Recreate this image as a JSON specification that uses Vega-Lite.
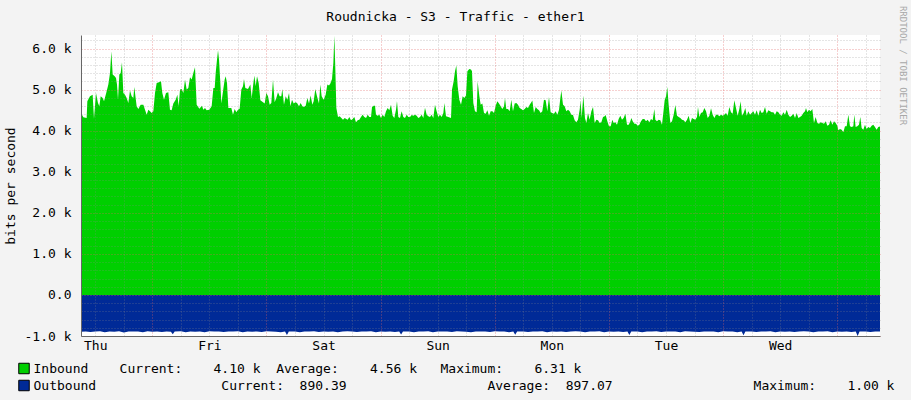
{
"$schema": "https://vega.github.io/schema/vega-lite/v6.json",
"width": 799, "height": 301,
"autosize": {"type": "none"},
"padding": {"left": 81, "top": 35, "right": 31, "bottom": 64},
"background": "#F3F3F3",
"config": {"view": {"fill": "#FFFFFF", "stroke": null}, "font": "DejaVu Sans Mono"},
"title": {"text": "Roudnicka - S3 - Traffic - ether1", "font": "DejaVu Sans Mono", "fontSize": 13, "fontWeight": "normal", "color": "#000000", "anchor": "middle", "frame": "group", "dx": -25, "dy": 29, "offset": 0, "baseline": "alphabetic"},
"datasets": {
"inb": [
{"h":0,"bps":4431},{"h":0.49,"bps":4325},{"h":1.19,"bps":4309},{"h":1.33,"bps":4715},{"h":1.89,"bps":4837},{"h":2.45,"bps":4878},{"h":2.73,"bps":4293},{"h":3.15,"bps":4919},{"h":3.57,"bps":4675},{"h":3.86,"bps":4593},{"h":4.14,"bps":4837},{"h":4.56,"bps":4797},{"h":4.84,"bps":4715},{"h":5.26,"bps":4902},{"h":5.75,"bps":5122},{"h":6.1,"bps":5407},{"h":6.38,"bps":5935},{"h":6.66,"bps":5366},{"h":7.08,"bps":5325},{"h":7.36,"bps":5285},{"h":7.57,"bps":5122},{"h":7.78,"bps":4756},{"h":8.06,"bps":5366},{"h":8.34,"bps":5407},{"h":8.62,"bps":5667},{"h":8.9,"bps":4919},{"h":9.25,"bps":4878},{"h":9.6,"bps":4797},{"h":9.95,"bps":4675},{"h":10.3,"bps":4976},{"h":10.65,"bps":4837},{"h":11,"bps":4797},{"h":11.21,"bps":5065},{"h":11.49,"bps":4797},{"h":11.7,"bps":4593},{"h":12.06,"bps":4528},{"h":12.55,"bps":4634},{"h":13.11,"bps":4634},{"h":13.46,"bps":4512},{"h":13.81,"bps":4390},{"h":14.16,"bps":4512},{"h":14.51,"bps":4472},{"h":14.86,"bps":4431},{"h":15.21,"bps":4472},{"h":15.56,"bps":4919},{"h":15.91,"bps":5163},{"h":16.4,"bps":5179},{"h":16.82,"bps":5203},{"h":17.1,"bps":4919},{"h":17.45,"bps":4756},{"h":17.87,"bps":4919},{"h":18.36,"bps":4935},{"h":18.71,"bps":4512},{"h":19.06,"bps":4496},{"h":19.41,"bps":4659},{"h":19.91,"bps":4756},{"h":20.26,"bps":4878},{"h":20.54,"bps":4593},{"h":20.82,"bps":5000},{"h":21.17,"bps":5016},{"h":21.52,"bps":4919},{"h":21.87,"bps":5244},{"h":22.22,"bps":5000},{"h":22.57,"bps":5041},{"h":22.92,"bps":5301},{"h":23.27,"bps":5244},{"h":23.62,"bps":5407},{"h":23.97,"bps":5545},{"h":24.32,"bps":4634},{"h":24.88,"bps":4537},{"h":25.44,"bps":4610},{"h":25.72,"bps":4512},{"h":26.07,"bps":4553},{"h":26.42,"bps":4496},{"h":26.98,"bps":4512},{"h":27.47,"bps":4593},{"h":27.83,"bps":5041},
{"h":28.11,"bps":5041},{"h":28.32,"bps":5407},{"h":28.6,"bps":5732},{"h":28.81,"bps":5959},{"h":29.02,"bps":5732},{"h":29.3,"bps":5163},{"h":29.51,"bps":4659},{"h":29.86,"bps":4959},{"h":30.21,"bps":5244},{"h":30.42,"bps":5325},{"h":30.7,"bps":5163},{"h":30.98,"bps":4553},{"h":31.61,"bps":4553},{"h":31.96,"bps":4390},{"h":32.31,"bps":4528},{"h":32.66,"bps":4447},{"h":33.01,"bps":4512},{"h":33.36,"bps":4537},{"h":33.71,"bps":5000},{"h":34.06,"bps":5081},{"h":34.27,"bps":5260},{"h":34.55,"bps":5041},{"h":35.11,"bps":5016},{"h":35.61,"bps":5122},{"h":35.89,"bps":4797},{"h":36.17,"bps":5081},{"h":36.45,"bps":5341},{"h":36.73,"bps":5081},{"h":37.01,"bps":5325},{"h":37.36,"bps":5163},{"h":37.71,"bps":4740},{"h":38.27,"bps":4691},{"h":38.62,"bps":4659},{"h":38.97,"bps":4919},{"h":39.32,"bps":4837},{"h":39.67,"bps":4634},{"h":40.02,"bps":4675},{"h":40.37,"bps":5244},{"h":40.72,"bps":4691},{"h":41.07,"bps":4797},{"h":41.42,"bps":4935},{"h":41.77,"bps":4837},{"h":42.12,"bps":4837},{"h":42.33,"bps":5016},{"h":42.68,"bps":4634},{"h":43.04,"bps":4837},{"h":43.39,"bps":4756},{"h":43.74,"bps":4919},{"h":44.02,"bps":4593},{"h":44.37,"bps":4756},{"h":44.72,"bps":4659},{"h":45.07,"bps":4691},{"h":45.42,"bps":4675},{"h":45.84,"bps":4593},{"h":46.19,"bps":4675},{"h":46.54,"bps":4593},{"h":46.89,"bps":4577},{"h":47.24,"bps":4610},{"h":47.59,"bps":4797},{"h":47.94,"bps":4659},{"h":48.29,"bps":4854},{"h":48.64,"bps":4634},{"h":48.92,"bps":4715},{"h":49.27,"bps":5016},{"h":49.62,"bps":4837},{"h":50.04,"bps":4659},{"h":50.32,"bps":5122},{"h":50.6,"bps":4837},{"h":51.02,"bps":4756},{"h":51.44,"bps":4878},{"h":51.8,"bps":5122},{"h":52.15,"bps":5098},{"h":52.43,"bps":5146},{"h":52.78,"bps":5260},{"h":53.06,"bps":5650},{"h":53.27,"bps":6310},{"h":53.48,"bps":5488},{"h":53.69,"bps":4553},{"h":54.04,"bps":4333},{"h":54.39,"bps":4350},{"h":54.74,"bps":4309},{"h":55.09,"bps":4268},{"h":55.44,"bps":4309},{"h":55.79,"bps":4285},
{"h":56.07,"bps":4268},{"h":56.42,"bps":4333},{"h":56.77,"bps":4252},{"h":57.12,"bps":4285},{"h":57.47,"bps":4333},{"h":57.82,"bps":4203},{"h":58.17,"bps":4252},{"h":58.52,"bps":4268},{"h":58.87,"bps":4333},{"h":59.22,"bps":4390},{"h":59.57,"bps":4333},{"h":59.93,"bps":4309},{"h":60.28,"bps":4390},{"h":60.63,"bps":4333},{"h":60.98,"bps":4333},{"h":61.19,"bps":4577},{"h":61.54,"bps":4610},{"h":61.82,"bps":4610},{"h":62.03,"bps":4390},{"h":62.38,"bps":4366},{"h":62.73,"bps":4390},{"h":63.08,"bps":4309},{"h":63.43,"bps":4390},{"h":63.78,"bps":4333},{"h":64.13,"bps":4472},{"h":64.48,"bps":4553},{"h":64.83,"bps":4496},{"h":65.18,"bps":4634},{"h":65.53,"bps":4366},{"h":65.88,"bps":4309},{"h":66.23,"bps":4512},{"h":66.44,"bps":4724},{"h":66.72,"bps":4333},{"h":67.07,"bps":4309},{"h":67.42,"bps":4472},{"h":67.77,"bps":4333},{"h":68.12,"bps":4309},{"h":68.48,"bps":4390},{"h":68.83,"bps":4333},{"h":69.18,"bps":4333},{"h":69.53,"bps":4382},{"h":69.88,"bps":4366},{"h":70.23,"bps":4390},{"h":70.58,"bps":4366},{"h":70.93,"bps":4309},{"h":71.28,"bps":4333},{"h":71.63,"bps":4390},{"h":71.98,"bps":4309},{"h":72.33,"bps":4561},{"h":72.68,"bps":4390},{"h":73.03,"bps":4350},{"h":73.38,"bps":4333},{"h":73.73,"bps":4390},{"h":74.08,"bps":4309},{"h":74.43,"bps":4634},{"h":74.78,"bps":4472},{"h":75.13,"bps":4333},{"h":75.48,"bps":4390},{"h":75.84,"bps":4333},{"h":76.19,"bps":4431},{"h":76.4,"bps":4675},{"h":76.75,"bps":4350},{"h":77.24,"bps":4333},{"h":77.8,"bps":4309},{"h":78.01,"bps":5000},{"h":78.36,"bps":5203},{"h":78.64,"bps":5447},{"h":78.92,"bps":5585},{"h":79.2,"bps":5081},{"h":79.55,"bps":4756},{"h":79.9,"bps":4634},{"h":80.25,"bps":4837},{"h":80.6,"bps":4797},{"h":80.95,"bps":4854},{"h":81.24,"bps":5447},{"h":81.65,"bps":5504},{"h":82,"bps":5488},{"h":82.21,"bps":5447},{"h":82.49,"bps":4675},{"h":82.84,"bps":4472},{"h":83.19,"bps":4447},{"h":83.4,"bps":5203},{"h":83.76,"bps":4837},
{"h":84.04,"bps":4634},{"h":84.39,"bps":4659},{"h":84.74,"bps":4431},{"h":85.09,"bps":4415},{"h":85.44,"bps":4496},{"h":85.79,"bps":4366},{"h":86.14,"bps":4472},{"h":86.49,"bps":4472},{"h":86.84,"bps":4431},{"h":87.19,"bps":4610},{"h":87.54,"bps":4715},{"h":87.89,"bps":4659},{"h":88.24,"bps":4593},{"h":88.59,"bps":4528},{"h":88.94,"bps":4593},{"h":89.15,"bps":4797},{"h":89.43,"bps":4528},{"h":89.78,"bps":4528},{"h":90.13,"bps":4472},{"h":90.48,"bps":4756},{"h":90.83,"bps":4472},{"h":91.18,"bps":4659},{"h":91.53,"bps":4675},{"h":91.88,"bps":4634},{"h":92.23,"bps":4553},{"h":92.58,"bps":4528},{"h":92.93,"bps":4496},{"h":93.29,"bps":4528},{"h":93.64,"bps":4577},{"h":93.99,"bps":4553},{"h":94.34,"bps":4634},{"h":94.69,"bps":4691},{"h":94.9,"bps":4732},{"h":95.25,"bps":4431},{"h":95.6,"bps":4577},{"h":95.95,"bps":4528},{"h":96.3,"bps":4496},{"h":96.65,"bps":4431},{"h":97,"bps":4472},{"h":97.35,"bps":4756},{"h":97.7,"bps":4740},{"h":98.05,"bps":4472},{"h":98.4,"bps":4821},{"h":98.75,"bps":4447},{"h":99.1,"bps":4431},{"h":99.45,"bps":4415},{"h":99.8,"bps":4472},{"h":100.16,"bps":4390},{"h":100.51,"bps":4512},{"h":100.79,"bps":4797},{"h":101,"bps":4976},{"h":101.35,"bps":4634},{"h":101.7,"bps":4593},{"h":102.05,"bps":4472},{"h":102.4,"bps":4512},{"h":102.75,"bps":4472},{"h":103.1,"bps":4390},{"h":103.45,"bps":4382},{"h":103.8,"bps":4252},{"h":104.15,"bps":4203},{"h":104.5,"bps":4268},{"h":104.85,"bps":4512},{"h":105.06,"bps":4732},{"h":105.27,"bps":4309},{"h":105.62,"bps":4854},{"h":105.97,"bps":4309},{"h":106.25,"bps":4187},{"h":106.6,"bps":4431},{"h":106.95,"bps":4268},{"h":107.31,"bps":4472},{"h":107.66,"bps":4577},{"h":108.01,"bps":4187},{"h":108.36,"bps":4268},{"h":108.71,"bps":4252},{"h":109.06,"bps":4187},{"h":109.41,"bps":4203},{"h":109.76,"bps":4333},{"h":110.11,"bps":4350},{"h":110.32,"bps":4382},{"h":110.67,"bps":4228},{"h":111.02,"bps":4106},{"h":111.37,"bps":4106},{"h":111.72,"bps":4268},
{"h":112,"bps":4187},{"h":112.35,"bps":4203},{"h":112.7,"bps":4146},{"h":113.05,"bps":4285},{"h":113.4,"bps":4366},{"h":113.75,"bps":4268},{"h":114.1,"bps":4309},{"h":114.46,"bps":4415},{"h":114.81,"bps":4146},{"h":115.16,"bps":4146},{"h":115.51,"bps":4228},{"h":115.72,"bps":4309},{"h":116,"bps":4228},{"h":116.35,"bps":4171},{"h":116.7,"bps":4171},{"h":117.05,"bps":4122},{"h":117.4,"bps":4146},{"h":117.75,"bps":4228},{"h":118.1,"bps":4285},{"h":118.45,"bps":4285},{"h":118.8,"bps":4228},{"h":119.15,"bps":4268},{"h":119.5,"bps":4203},{"h":119.85,"bps":4285},{"h":120.2,"bps":4252},{"h":120.55,"bps":4528},{"h":120.76,"bps":4268},{"h":121.11,"bps":4228},{"h":121.46,"bps":4268},{"h":121.81,"bps":4252},{"h":122.16,"bps":4146},{"h":122.51,"bps":4512},{"h":122.72,"bps":4740},{"h":123.01,"bps":4837},{"h":123.28,"bps":5065},{"h":123.56,"bps":4634},{"h":123.92,"bps":4187},{"h":124.27,"bps":4228},{"h":124.62,"bps":4390},{"h":124.97,"bps":4626},{"h":125.32,"bps":4366},{"h":125.67,"bps":4333},{"h":126.02,"bps":4309},{"h":126.37,"bps":4268},{"h":126.72,"bps":4252},{"h":127.07,"bps":4203},{"h":127.42,"bps":4268},{"h":127.77,"bps":4366},{"h":128.12,"bps":4187},{"h":128.47,"bps":4309},{"h":128.82,"bps":4285},{"h":129.17,"bps":4268},{"h":129.52,"bps":4333},{"h":129.73,"bps":4577},{"h":130.01,"bps":4333},{"h":130.36,"bps":4431},{"h":130.72,"bps":4447},{"h":131.07,"bps":4553},{"h":131.42,"bps":4472},{"h":131.77,"bps":4309},{"h":132.12,"bps":4366},{"h":132.47,"bps":4545},{"h":132.82,"bps":4390},{"h":133.17,"bps":4309},{"h":133.52,"bps":4390},{"h":133.87,"bps":4390},{"h":134.22,"bps":4350},{"h":134.57,"bps":4390},{"h":134.92,"bps":4366},{"h":135.27,"bps":4390},{"h":135.62,"bps":4431},{"h":135.97,"bps":4366},{"h":136.32,"bps":4577},{"h":136.67,"bps":4447},{"h":137.02,"bps":4415},{"h":137.37,"bps":4740},{"h":137.72,"bps":4553},{"h":138.07,"bps":4366},{"h":138.42,"bps":4528},{"h":138.7,"bps":4715},{"h":138.98,"bps":4366},{"h":139.33,"bps":4431},{"h":139.68,"bps":4553},
{"h":139.97,"bps":4366},{"h":140.32,"bps":4472},{"h":140.67,"bps":4390},{"h":141.02,"bps":4431},{"h":141.37,"bps":4472},{"h":141.72,"bps":4390},{"h":142.07,"bps":4496},{"h":142.42,"bps":4366},{"h":142.77,"bps":4512},{"h":143.12,"bps":4431},{"h":143.47,"bps":4447},{"h":143.82,"bps":4577},{"h":144.17,"bps":4415},{"h":144.53,"bps":4496},{"h":144.88,"bps":4472},{"h":145.23,"bps":4447},{"h":145.58,"bps":4447},{"h":145.93,"bps":4390},{"h":146.28,"bps":4472},{"h":146.63,"bps":4447},{"h":146.98,"bps":4390},{"h":147.33,"bps":4366},{"h":147.68,"bps":4447},{"h":148.03,"bps":4390},{"h":148.38,"bps":4512},{"h":148.73,"bps":4390},{"h":149.08,"bps":4333},{"h":149.43,"bps":4366},{"h":149.78,"bps":4415},{"h":150.13,"bps":4309},{"h":150.48,"bps":4431},{"h":150.83,"bps":4309},{"h":151.18,"bps":4333},{"h":151.53,"bps":4366},{"h":151.88,"bps":4431},{"h":152.23,"bps":4472},{"h":152.44,"bps":4553},{"h":152.72,"bps":4447},{"h":153.07,"bps":4512},{"h":153.42,"bps":4472},{"h":153.77,"bps":4528},{"h":154.12,"bps":4187},{"h":154.47,"bps":4333},{"h":154.83,"bps":4187},{"h":155.18,"bps":4171},{"h":155.53,"bps":4203},{"h":155.88,"bps":4187},{"h":156.23,"bps":4171},{"h":156.58,"bps":4228},{"h":156.93,"bps":4122},{"h":157.28,"bps":4146},{"h":157.63,"bps":4252},{"h":157.98,"bps":4146},{"h":158.33,"bps":4228},{"h":158.68,"bps":4187},{"h":159.03,"bps":4122},{"h":159.24,"bps":4008},{"h":159.59,"bps":4041},{"h":159.94,"bps":4024},{"h":160.29,"bps":3959},{"h":160.64,"bps":4106},{"h":160.99,"bps":4106},{"h":161.34,"bps":4390},{"h":161.69,"bps":4106},{"h":162.04,"bps":4089},{"h":162.39,"bps":4106},{"h":162.6,"bps":4390},{"h":162.88,"bps":4089},{"h":163.23,"bps":4106},{"h":163.58,"bps":4146},{"h":163.86,"bps":4333},{"h":164.14,"bps":4065},{"h":164.49,"bps":4024},{"h":164.84,"bps":4146},{"h":165.19,"bps":4041},{"h":165.54,"bps":4089},{"h":165.89,"bps":4065},{"h":166.24,"bps":4122},{"h":166.59,"bps":4146},{"h":166.94,"bps":4089},{"h":167.29,"bps":4024},{"h":167.64,"bps":4089},{"h":168,"bps":4100}
],
"outb": [
{"h":0,"bps":-895},{"h":1,"bps":-888},{"h":2,"bps":-905},{"h":3,"bps":-892},{"h":4,"bps":-885},{"h":5,"bps":-910},{"h":6,"bps":-890},{"h":7,"bps":-898},{"h":8,"bps":-886},{"h":9,"bps":-912},{"h":10,"bps":-890},{"h":11,"bps":-893},{"h":12,"bps":-889},{"h":13,"bps":-908},{"h":14,"bps":-887},{"h":15,"bps":-894},{"h":16,"bps":-889},{"h":17,"bps":-903},{"h":18,"bps":-890},{"h":18.9,"bps":-895},{"h":19.3,"bps":-960},{"h":19.7,"bps":-893},{"h":21,"bps":-887},{"h":22,"bps":-906},{"h":23,"bps":-889},{"h":24,"bps":-894},{"h":25,"bps":-889},{"h":26,"bps":-909},{"h":27,"bps":-885},{"h":28,"bps":-892},{"h":29,"bps":-890},{"h":30,"bps":-904},{"h":31,"bps":-888},{"h":32,"bps":-891},{"h":33,"bps":-887},{"h":34,"bps":-911},{"h":35,"bps":-889},{"h":36,"bps":-894},{"h":37,"bps":-889},{"h":38,"bps":-902},{"h":39,"bps":-886},{"h":40,"bps":-890},{"h":41,"bps":-895},{"h":42,"bps":-906},{"h":42.9,"bps":-891},{"h":43.3,"bps":-975},{"h":43.7,"bps":-890},{"h":45,"bps":-888},{"h":46,"bps":-907},{"h":47,"bps":-889},{"h":48,"bps":-892},{"h":49,"bps":-886},{"h":50,"bps":-903},{"h":51,"bps":-890},{"h":52,"bps":-895},{"h":53,"bps":-888},{"h":54,"bps":-909},{"h":55,"bps":-891},{"h":56,"bps":-887},{"h":57,"bps":-893},{"h":58,"bps":-905},{"h":59,"bps":-889},{"h":60,"bps":-892},{"h":61,"bps":-886},{"h":62,"bps":-908},{"h":63,"bps":-890},{"h":64,"bps":-894},{"h":65,"bps":-888},{"h":66,"bps":-903},{"h":66.9,"bps":-891},{"h":67.3,"bps":-965},{"h":67.7,"bps":-889},{"h":69,"bps":-892},{"h":70,"bps":-906},{"h":71,"bps":-888},{"h":72,"bps":-891},{"h":73,"bps":-887},{"h":74,"bps":-910},{"h":75,"bps":-889},{"h":76,"bps":-893},{"h":77,"bps":-890},{"h":78,"bps":-904},{"h":79,"bps":-886},{"h":80,"bps":-891},{"h":81,"bps":-894},{"h":82,"bps":-907},{"h":83,"bps":-888},{"h":84,"bps":-892},{"h":85,"bps":-889},{"h":86,"bps":-905},{"h":87,"bps":-887},{"h":88,"bps":-893},{"h":89,"bps":-890},{"h":90,"bps":-908},{"h":90.9,"bps":-891},{"h":91.3,"bps":-970},{"h":91.7,"bps":-890},{"h":93,"bps":-888},{"h":94,"bps":-904},{"h":95,"bps":-889},{"h":96,"bps":-892},{"h":97,"bps":-886},{"h":98,"bps":-909},{"h":99,"bps":-890},{"h":100,"bps":-894},{"h":101,"bps":-888},{"h":102,"bps":-903},{"h":103,"bps":-891},{"h":104,"bps":-887},{"h":105,"bps":-893},{"h":106,"bps":-906},{"h":107,"bps":-889},{"h":108,"bps":-892},{"h":109,"bps":-886},{"h":110,"bps":-910},{"h":111,"bps":-890},{"h":112,"bps":-894},{"h":113,"bps":-888},{"h":114,"bps":-905},{"h":114.9,"bps":-891},{"h":115.3,"bps":-975},{"h":115.7,"bps":-889},{"h":117,"bps":-892},{"h":118,"bps":-907},{"h":119,"bps":-888},{"h":120,"bps":-891},{"h":121,"bps":-887},{"h":122,"bps":-904},{"h":123,"bps":-889},{"h":124,"bps":-893},{"h":125,"bps":-890},{"h":126,"bps":-909},{"h":127,"bps":-886},{"h":128,"bps":-891},{"h":129,"bps":-894},{"h":130,"bps":-903},{"h":131,"bps":-888},{"h":132,"bps":-892},{"h":133,"bps":-889},{"h":134,"bps":-906},{"h":135,"bps":-887},{"h":136,"bps":-893},{"h":137,"bps":-890},{"h":138,"bps":-908},{"h":138.9,"bps":-891},{"h":139.3,"bps":-980},{"h":139.7,"bps":-890},{"h":141,"bps":-888},{"h":142,"bps":-905},{"h":143,"bps":-889},{"h":144,"bps":-892},{"h":145,"bps":-886},{"h":146,"bps":-909},{"h":147,"bps":-890},{"h":148,"bps":-894},{"h":149,"bps":-888},{"h":150,"bps":-903},{"h":151,"bps":-891},{"h":152,"bps":-887},{"h":153,"bps":-893},{"h":154,"bps":-906},{"h":155,"bps":-889},{"h":156,"bps":-892},{"h":157,"bps":-886},{"h":158,"bps":-910},{"h":159,"bps":-890},{"h":160,"bps":-894},{"h":161,"bps":-888},{"h":162,"bps":-905},{"h":162.9,"bps":-891},{"h":163.3,"bps":-1000},{"h":163.7,"bps":-890},{"h":165,"bps":-888},{"h":166,"bps":-904},{"h":167,"bps":-889},{"h":168,"bps":-890}
]
},
"resolve": {"axis": {"x": "independent", "y": "independent"}},
"layer": [
{
"data": {"name": "inb"},
"mark": {"type": "area", "interpolate": "linear"},
"encoding": {
"x": {"field": "h", "type": "quantitative", "scale": {"domain": [0, 168], "nice": false, "zero": false},
 "axis": {"orient": "bottom", "values": [3,9,21,27,33,45,51,57,69,75,81,93,99,105,117,123,129,141,147,153,165], "grid": true, "gridColor": "#8C8C8C", "gridOpacity": 0.45, "gridDash": [1, 2], "labels": false, "ticks": false, "domain": false, "title": null, "zindex": 1}},
"y": {"field": "bps", "type": "quantitative", "scale": {"domain": [-1000, 6330], "nice": false, "zero": false},
 "axis": {"orient": "left", "values": [-800,-600,-400,-200,200,400,600,800,1200,1400,1600,1800,2200,2400,2600,2800,3200,3400,3600,3800,4200,4400,4600,4800,5200,5400,5600,5800,6200], "grid": true, "gridColor": "#8C8C8C", "gridOpacity": 0.45, "gridDash": [1, 2], "labels": false, "ticks": false, "domain": false, "title": null, "zindex": 1}},
"y2": {"datum": 0},
"color": {"datum": "Inbound", "type": "nominal", "scale": {"domain": ["Inbound", "Outbound"], "range": ["#00CF00", "#002A97"]},
 "legend": {"orient": "none", "legendX": -63.5, "legendY": 327, "direction": "vertical", "title": null, "symbolType": "square", "symbolSize": 110, "symbolStrokeColor": "#000000", "symbolStrokeWidth": 1, "symbolOpacity": 1, "labelFont": "DejaVu Sans Mono", "labelFontSize": 13, "labelColor": "#000000", "labelLimit": 2000, "labelOffset": 3, "rowPadding": 2, "padding": 0,
 "labelExpr": "datum.label == 'Inbound' ? 'Inbound\u00a0\u00a0\u00a0\u00a0Current:\u00a0\u00a0\u00a0\u00a04.10\u00a0k\u00a0\u00a0Average:\u00a0\u00a0\u00a0\u00a04.56\u00a0k\u00a0\u00a0\u00a0Maximum:\u00a0\u00a0\u00a0\u00a06.31\u00a0k' : 'Outbound\u00a0\u00a0\u00a0\u00a0\u00a0\u00a0\u00a0\u00a0\u00a0\u00a0\u00a0\u00a0\u00a0\u00a0\u00a0\u00a0Current:\u00a0\u00a0890.39\u00a0\u00a0\u00a0\u00a0\u00a0\u00a0\u00a0\u00a0\u00a0\u00a0\u00a0\u00a0\u00a0\u00a0\u00a0\u00a0\u00a0\u00a0Average:\u00a0\u00a0897.07\u00a0\u00a0\u00a0\u00a0\u00a0\u00a0\u00a0\u00a0\u00a0\u00a0\u00a0\u00a0\u00a0\u00a0\u00a0\u00a0\u00a0\u00a0Maximum:\u00a0\u00a0\u00a0\u00a01.00\u00a0k'"}}
}
},
{
"data": {"name": "outb"},
"mark": {"type": "area", "interpolate": "linear"},
"encoding": {
"x": {"field": "h", "type": "quantitative",
 "axis": {"orient": "bottom", "values": [15,39,63,87,111,135,159], "grid": true, "gridColor": "#E06060", "gridOpacity": 0.6, "gridDash": [1, 2], "labels": true, "labelExpr": "['Thu','Fri','Sat','Sun','Mon','Tue','Wed'][(datum.value-15)/24]", "labelOffset": -57.07, "labelFlush": false, "labelOverlap": false, "labelBound": false, "labelFont": "DejaVu Sans Mono", "labelFontSize": 13, "labelColor": "#000000", "labelPadding": 3, "ticks": false, "tickSize": 0, "domain": true, "domainColor": "#666666", "domainWidth": 1, "title": null, "zindex": 1}},
"y": {"field": "bps", "type": "quantitative",
 "axis": {"orient": "left", "values": [-1000,0,1000,2000,3000,4000,5000,6000], "grid": true, "gridColor": "#E06060", "gridOpacity": 0.6, "gridDash": [1, 2], "labels": true, "labelExpr": "datum.value == 0 ? '0.0' : (datum.value < 0 ? '-' : '') + format(abs(datum.value)/1000, '.1f') + ' k'", "labelFont": "DejaVu Sans Mono", "labelFontSize": 13, "labelColor": "#000000", "labelPadding": 10, "labelFlush": false, "labelOverlap": false, "ticks": false, "tickSize": 0, "domain": true, "domainColor": "#666666", "domainWidth": 1, "title": "bits per second", "titleFont": "DejaVu Sans Mono", "titleFontSize": 13, "titleFontWeight": "normal", "titleColor": "#000000", "titleAngle": -90, "titleX": -71, "titleY": 150.5, "titleAlign": "center", "titleBaseline": "middle", "zindex": 1}},
"y2": {"datum": 0},
"color": {"datum": "Outbound", "type": "nominal"}
}
},
{
"data": {"name": "inb"},
"mark": {"type": "line", "opacity": 0},
"encoding": {
"x": {"field": "h", "type": "quantitative", "axis": null},
"y": {"field": "bps", "type": "quantitative",
 "axis": {"orient": "right", "labels": false, "ticks": false, "domain": false, "grid": false, "title": "RRDTOOL / TOBI OETIKER", "titleFont": "DejaVu Sans Mono", "titleFontSize": 9, "titleFontWeight": "normal", "titleColor": "#A8A8A8", "titleAngle": 90, "titleX": 22.7, "titleY": 30, "titleAlign": "center", "titleBaseline": "middle"}}
}
}
]
}
